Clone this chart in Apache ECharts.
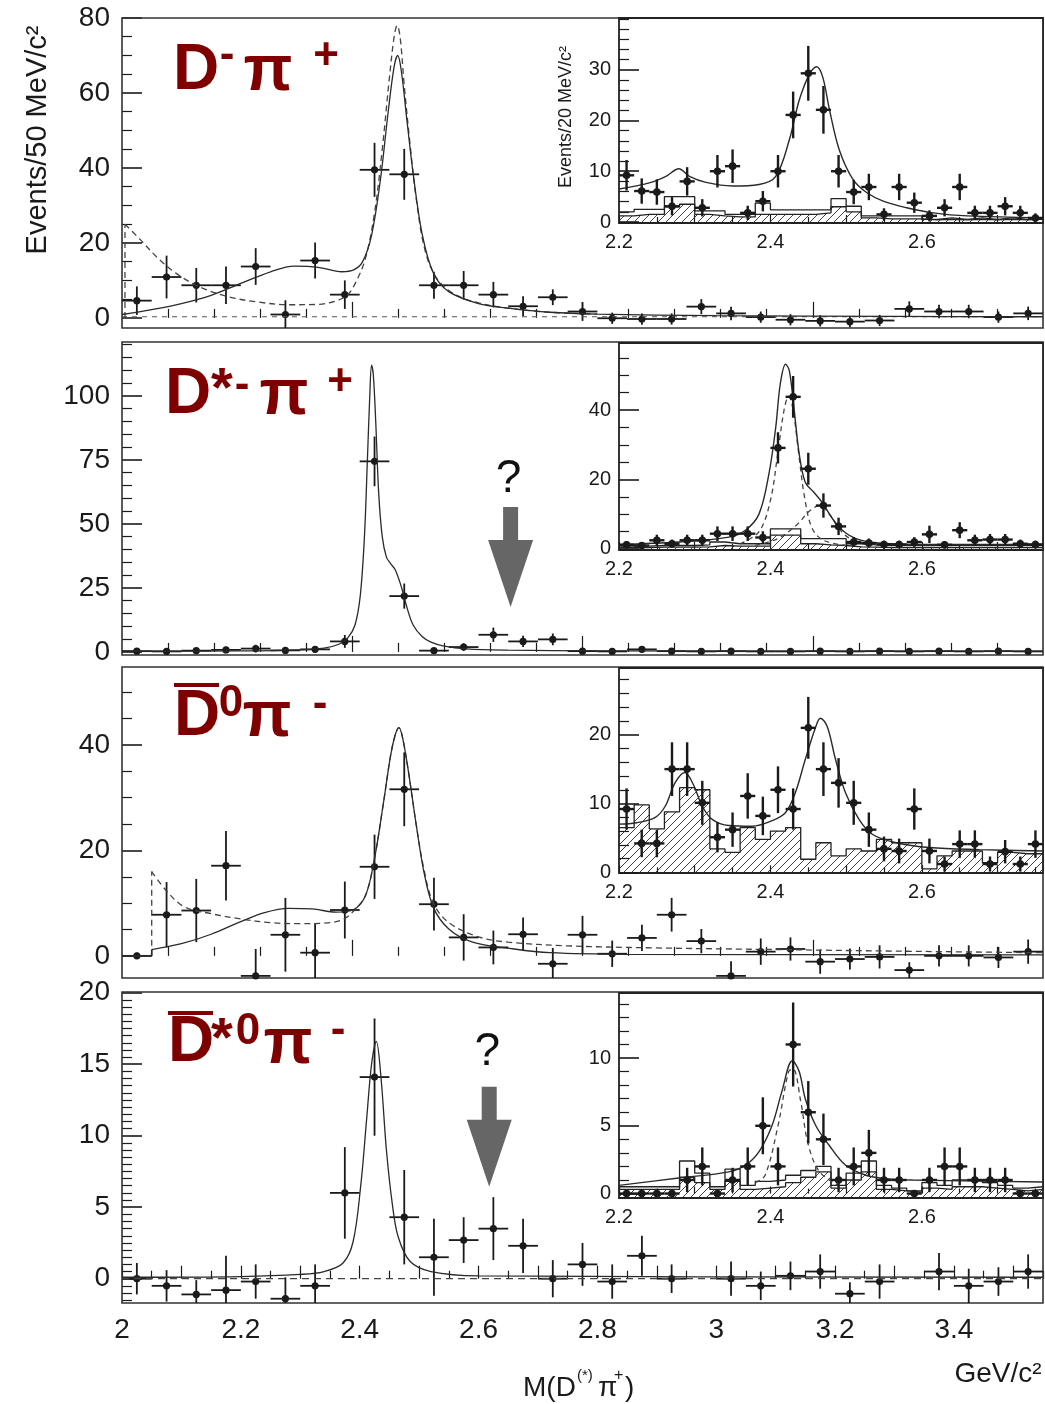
<!DOCTYPE html>
<html><head><meta charset="utf-8">
<script src="https://cdn.jsdelivr.net/npm/echarts@6/dist/echarts.min.js"></script>
<style>html,body{margin:0;padding:0;background:#fff}#c{width:1045px;height:1404px}</style>
</head><body><div id="c"></div>
<script>
// ================= DATA =================
var MAIN_X = [2.025,2.075,2.125,2.175,2.225,2.275,2.325,2.375,2.425,2.475,2.525,2.575,2.625,2.675,2.725,2.775,2.825,2.875,2.925,2.975,3.025,3.075,3.125,3.175,3.225,3.275,3.325,3.375,3.425,3.475,3.525];

// D- pi+
var P1_Y = [4.6,10.9,8.7,8.7,13.7,0.9,15.3,6.2,39.5,38.3,8.7,8.7,6.2,3.1,5.5,1.7,-0.1,-0.3,-0.3,3.0,1.2,0.2,-0.5,-0.8,-1.0,-0.7,2.4,1.7,1.7,0.2,1.2];
var P1_E = [3.8,5.7,4.6,5.0,4.9,3.8,4.8,3.8,7.2,6.8,3.6,3.8,3.4,2.7,2.1,2.5,1.5,1.5,1.5,2.0,1.8,1.5,1.5,1.5,1.5,1.5,2.0,1.8,1.8,1.5,1.8];
var P1_FIT = [[2.0,0.9],[2.05,2.2],[2.1,3.8],[2.15,6.0],[2.2,9.2],[2.25,12.3],[2.29,13.8],[2.33,13.5],[2.37,12.3],[2.39,12.8],[2.405,15],[2.42,22],[2.435,37],[2.448,55],[2.458,67],[2.464,70],[2.47,66],[2.48,52],[2.49,38.5],[2.505,22.5],[2.524,12],[2.55,7],[2.6,3.8],[2.65,2.6],[2.72,1.5],[2.8,1.0],[3.0,0.6],[3.3,0.4],[3.55,0.3]];
var P1_DASH_EDGE = [[2.005,0],[2.005,25]];
var P1_DASH = [[2.005,25],[2.03,21],[2.06,16],[2.09,12],[2.13,8.3],[2.18,5.6],[2.23,4.2],[2.28,3.5],[2.33,3.6],[2.36,4.5],[2.38,6.2],[2.395,10],[2.41,16],[2.425,28],[2.438,45],[2.45,64],[2.458,75],[2.463,78],[2.468,75],[2.475,62],[2.485,46],[2.495,32],[2.51,18],[2.53,10.5],[2.56,6.3],[2.6,4],[2.65,2.6],[2.72,1.5],[2.8,1.0]];
var P1_BASE = [[2.0,0.3],[3.55,0.3]];

// D*- pi+
var P2_Y = [0.3,0.2,0.5,0.8,1.3,0.6,1.0,4.1,74.4,21.8,0.5,1.9,6.7,4.1,4.9,0.3,0.2,1.0,0.3,0.2,0.3,0.2,0.2,0.3,0.2,0.3,0.2,0.3,0.2,0.3,0.2];
var P2_E = [0.8,0.8,1.0,1.2,1.5,1.0,1.2,2.5,9.7,4.9,1.0,1.5,2.8,2.2,2.3,1.0,1.0,1.2,1.0,1.0,1.0,1.0,1.0,1.0,1.0,1.0,1.0,1.0,1.0,1.0,1.0];
var P2_FIT = [[2.0,0.3],[2.2,0.4],[2.3,0.8],[2.34,1.5],[2.365,3],[2.38,5.5],[2.392,10.4],[2.401,22],[2.408,45],[2.413,75],[2.417,100],[2.42,112],[2.423,108],[2.427,90],[2.432,62],[2.438,45],[2.445,37],[2.452,34.5],[2.46,32],[2.47,25.5],[2.48,17],[2.49,10.5],[2.505,6],[2.52,3.8],[2.54,2.4],[2.58,1.2],[2.65,0.7],[2.8,0.4],[3.55,0.3]];

// D0bar pi-
var P3_Y = [0,7.8,8.6,17.1,-3.8,4.0,0.6,8.7,16.9,31.6,9.8,3.5,1.6,4.1,-1.5,4.0,0.4,3.4,7.8,2.8,-3.8,0.8,1.3,-1.1,-0.6,-0.2,-2.7,0,0,-0.3,0.8];
var P3_E = [0.6,6.2,6.0,6.6,5.1,7.0,5.6,5.4,6.1,7.0,5.0,4.4,3.2,3.2,3.0,3.6,2.5,2.5,3.2,2.3,2.8,2.5,2.2,2.3,2.0,2.2,1.5,2.0,2.0,2.0,2.3];
var P3_FIT_STEP = [[2.0,0],[2.05,0],[2.05,1.2]];
var P3_FIT = [[2.05,1.2],[2.1,2.3],[2.15,4.1],[2.2,6.5],[2.24,8.2],[2.28,9.0],[2.32,8.9],[2.36,8.3],[2.39,8.8],[2.41,11.5],[2.425,18.5],[2.44,29],[2.452,38],[2.46,42],[2.466,43.3],[2.472,41.5],[2.482,35],[2.495,25],[2.508,16],[2.524,9.2],[2.55,5.1],[2.59,2.6],[2.66,1.3],[2.72,0.6],[2.85,0.3],[3.55,0.2]];
var P3_DASH_EDGE = [[2.05,0],[2.05,16]];
var P3_DASH = [[2.05,16],[2.075,12.3],[2.105,9.3],[2.15,8.0],[2.2,7.0],[2.25,6.3],[2.3,6.1],[2.34,6.2],[2.37,6.8],[2.39,8.5],[2.41,11.5],[2.425,18.5],[2.44,29],[2.452,38],[2.46,42],[2.466,43.3],[2.472,41.5],[2.482,35],[2.495,25],[2.508,16.5],[2.524,10],[2.55,6.3],[2.6,3.6],[2.65,2.6],[2.75,1.9],[2.9,1.5],[3.1,1.2],[3.3,0.9],[3.55,0.6]];

// D*0bar pi-
var P4_Y = [0,-0.5,-1.1,-0.8,-0.2,-1.4,-0.5,6.0,14.1,4.3,1.5,2.7,3.5,2.3,0,1.0,-0.2,1.6,0,null,0,-0.5,0.2,0.5,-1.05,-0.2,null,0.5,-0.5,-0.2,0.5];
var P4_E = [1.1,1.1,1.0,2.4,1.2,1.5,1.5,3.2,4.1,3.3,2.7,1.6,2.2,1.9,1.3,1.5,1.2,1.4,1.0,0,1.2,1.0,1.0,1.2,0.8,1.2,0,1.3,1.2,1.0,1.2];
var P4_FIT = [[2.0,0.1],[2.2,0.15],[2.3,0.3],[2.34,0.5],[2.372,1.1],[2.389,2.6],[2.402,6.6],[2.412,11.3],[2.42,15],[2.428,16.6],[2.436,14],[2.445,9],[2.455,5.2],[2.465,2.9],[2.485,1.2],[2.52,0.5],[2.6,0.2],[3.55,0.1]];
var P4_BASE = [[2.0,0],[3.55,0]];

// insets (20 MeV bins)
var INSET_X = [2.21,2.23,2.25,2.27,2.29,2.31,2.33,2.35,2.37,2.39,2.41,2.43,2.45,2.47,2.49,2.51,2.53,2.55,2.57,2.59,2.61,2.63,2.65,2.67,2.69,2.71,2.73,2.75];

var I1_Y = [9.2,6.1,5.9,3.1,8.0,2.8,10.0,11.0,1.8,4.1,10.0,21.1,29.3,22.1,10.0,5.9,6.9,1.5,6.9,3.8,1.2,2.8,6.9,1.8,1.8,3.1,1.8,0.8];
var I1_E = [3.0,2.5,2.5,1.8,2.8,1.7,3.2,3.3,1.4,2.0,3.2,4.6,5.4,4.7,3.2,2.4,2.6,1.2,2.6,2.0,1.1,1.7,2.6,1.4,1.4,1.8,1.4,0.9];
var I1_FIT = [[2.2,6.5],[2.24,7.7],[2.262,9],[2.279,10.5],[2.293,9],[2.315,7.8],[2.35,7.1],[2.385,7.4],[2.407,9],[2.425,16.2],[2.438,24],[2.452,29.3],[2.461,30.6],[2.469,28.6],[2.478,22.1],[2.491,14.2],[2.509,8.4],[2.527,5.8],[2.549,4.1],[2.58,2.8],[2.615,1.8],[2.66,1.2],[2.76,0.8]];
var I1_HIST = [2.0,2.5,2.5,5.0,5.0,2.2,2.2,1.5,1.5,3.7,2.4,2.4,2.4,2.4,4.6,3.1,1.2,1.2,1.2,1.2,0.5,0.8,0.5,0.8,0.5,0.8,0.5,0.8];
var I1_HATCH = [1.2,1.5,1.5,3.0,3.5,1.5,1.2,1.0,1.0,1.5,1.5,1.5,1.5,1.8,3.0,2.0,0.8,0.6,0.6,0.6,0.4,0.5,0.4,0.5,0.4,0.5,0.4,0.5];

var I2_Y = [1.2,1.0,2.5,1.5,2.5,2.5,4.4,4.4,4.4,3.3,29.1,43.8,23.1,12.5,6.5,2.0,1.7,1.3,1.3,2.0,4.2,1.2,5.4,2.5,2.7,2.7,1.5,1.3];
var I2_E = [1.1,1.0,1.6,1.2,1.6,1.6,2.1,2.1,2.1,1.8,4.5,6.0,4.6,3.5,2.5,1.4,1.3,1.1,1.1,1.4,2.5,1.1,2.3,1.6,1.6,1.6,1.2,1.1];
var I2_FIT = [[2.2,1.3],[2.28,2.0],[2.345,3.4],[2.367,5.4],[2.385,10.1],[2.398,21.6],[2.407,35],[2.413,47.5],[2.42,53.2],[2.425,51.3],[2.431,40.8],[2.438,27.4],[2.446,19.2],[2.457,16.4],[2.468,13.5],[2.482,8.7],[2.495,5.4],[2.513,3.0],[2.543,1.7],[2.588,1.3],[2.76,1.3]];
var I2_DASH1 = [[2.36,1.5],[2.385,5],[2.4,14],[2.41,28],[2.418,40],[2.424,44],[2.43,40],[2.437,28],[2.445,15],[2.455,6],[2.47,2.5],[2.5,1]];
var I2_DASH2 = [[2.38,1],[2.41,3],[2.435,7],[2.452,11],[2.465,12.5],[2.478,10],[2.49,6],[2.505,3],[2.53,1.2]];
var I2_HIST = [0.8,0.8,1.0,1.0,1.0,1.2,2.0,1.5,1.5,1.5,5.8,5.8,3.0,3.0,3.0,1.5,1.2,1.0,1.0,1.0,1.0,1.0,1.0,1.0,1.0,1.0,1.0,1.0];
var I2_HATCH = [0.4,0.4,0.5,0.5,0.5,0.6,1.0,0.8,0.8,0.8,4.0,4.0,1.5,1.2,1.0,0.6,0.5,0.4,0.4,0.4,0.4,0.4,0.4,0.4,0.4,0.4,0.4,0.4];

var I3_Y = [9.2,4.2,4.2,15.0,15.0,10.1,5.1,6.2,11.1,8.2,12.0,9.2,21.0,15.0,13.0,10.1,6.2,3.4,3.1,9.2,3.1,1.2,4.1,4.1,1.2,3.0,1.2,4.1];
var I3_E = [3.0,2.0,2.0,3.9,3.9,3.2,2.2,2.5,3.3,2.8,3.4,3.0,4.5,3.9,3.6,3.2,2.5,1.8,1.8,3.0,1.8,1.1,2.0,2.0,1.1,1.7,1.1,2.0];
var I3_FIT = [[2.2,7.0],[2.223,7.2],[2.248,8.0],[2.261,9.6],[2.274,13],[2.287,14.5],[2.298,12.8],[2.31,9.6],[2.323,7.7],[2.345,6.8],[2.376,6.7],[2.402,7.5],[2.42,8.7],[2.433,11.6],[2.446,16.4],[2.46,21.2],[2.466,22.4],[2.475,21.2],[2.486,16.4],[2.499,11.6],[2.517,7.7],[2.535,5.5],[2.566,4.3],[2.61,3.6],[2.676,3.3],[2.76,3.1]];
var I3_HIST = [6.5,9.8,6.3,8.8,12.3,12.0,3.4,2.9,6.5,4.8,6.0,6.5,1.9,4.3,2.4,3.4,3.1,4.8,4.3,4.3,0.5,2.4,3.1,3.1,1.4,2.9,2.7,2.7];

var I4_Y = [0,0,0,0,1,2,0,1,2,5,2,11,6,4,1,2,3,1,1,0,1,2,2,1,1,1,0,0];
var I4_E = [0,0,0,0,0.9,1.4,0,0.9,1.4,2.1,1.4,3.1,2.3,1.9,0.9,1.4,1.7,0.9,0.9,0,0.9,1.4,1.4,0.9,0.9,0.9,0,0];
var I4_FIT = [[2.2,0.6],[2.279,1.15],[2.345,1.6],[2.367,2.1],[2.385,3.1],[2.402,5.0],[2.415,7.5],[2.429,9.8],[2.438,9.0],[2.446,7.0],[2.46,5.0],[2.477,3.6],[2.499,2.1],[2.526,1.35],[2.552,1.1],[2.588,1.0],[2.76,0.85]];
var I4_DASH = [[2.38,0.8],[2.393,1.35],[2.41,5],[2.424,9],[2.43,9.2],[2.44,6.8],[2.45,3.6],[2.465,1.6],[2.49,0.6]];
var I4_HIST = [0.5,0.5,0.5,0.5,2.4,1.5,0.5,1.8,0.6,0.9,1.0,1.35,1.7,2.0,0.6,1.5,2.4,0.6,0.4,0.2,0.8,0.6,1.0,1.0,0.8,0.6,0.4,0.5];
var I4_HATCH = [0.3,0.3,0.3,0.3,1.2,0.8,0.3,0.9,0.3,0.4,0.5,0.8,1.2,1.6,0.4,1.0,1.6,0.3,0.2,0.1,0.4,0.3,0.5,0.5,0.4,0.3,0.2,0.3];

// tick labels
var MAIN_XLABELS = [2,2.2,2.4,2.6,2.8,3,3.2,3.4];
var P1_YTICKS = [0,20,40,60,80];
var P2_YTICKS = [0,25,50,75,100];
var P3_YTICKS = [0,20,40];
var P4_YTICKS = [0,5,10,15,20];
var INSET_XLABELS = [2.2,2.4,2.6];
var I1_YTICKS = [0,10,20,30];
var I2_YTICKS = [0,20,40];
var I3_YTICKS = [0,10,20];
var I4_YTICKS = [0,5,10];

// ================= LAYOUT / STYLE =================
var FONT = '"Liberation Sans", Arial, Helvetica, sans-serif';
var INK = '#1a1a1a';
var RED = '#7f0000';
var MAIN_LAYOUT = [
  {top:18, height:310, ymin:-2.7, ymax:80, minor:5, ticks:P1_YTICKS},
  {top:342, height:313, ymin:-1.2, ymax:121, minor:5, ticks:P2_YTICKS},
  {top:667, height:311, ymin:-4.2, ymax:54.8, minor:5, ticks:P3_YTICKS},
  {top:992, height:311, ymin:-1.7, ymax:20.05, minor:0.5, ticks:P4_YTICKS}
];
var INSET_LAYOUT = [
  {top:18, height:205, ymin:-0.2, ymax:40.2, minor:2, ticks:I1_YTICKS},
  {top:343, height:207, ymin:-0.3, ymax:59.3, minor:5, ticks:I2_YTICKS},
  {top:668, height:205, ymin:-0.1, ymax:29.7, minor:2, ticks:I3_YTICKS},
  {top:993, height:205, ymin:-0.33, ymax:14.8, minor:1, ticks:I4_YTICKS}
];

function stepVals(min, max, step, exclude) {
  var out = [], k0 = Math.ceil(min/step - 1e-9), k1 = Math.floor(max/step + 1e-9);
  for (var k = k0; k <= k1; k++) {
    var v = +(k*step).toFixed(6);
    if (!exclude || exclude.indexOf(v) < 0) out.push(v);
  }
  return out;
}

var grids = [], xAxes = [], yAxes = [], series = [];

function axisBase(gi, min, max, z, pos) {
  return {gridIndex:gi, type:'value', position:pos, offset:0, min:min, max:max, z:z, axisLine:{show:false}, splitLine:{show:false}, axisPointer:{show:false}};
}
function addAxes(gi, o) {
  var xi = xAxes.length, yi = yAxes.length;
  var xa = axisBase(gi, o.xmin, o.xmax, o.z, 'bottom');
  xa.axisTick = {show:true, inside:true, length:o.xLen, customValues:o.xMajor, lineStyle:{color:INK, width:1.2}};
  xa.axisLabel = {show:!!o.xLabels, customValues:o.xLabels || o.xMajor, fontSize:o.xFs, color:INK, fontFamily:FONT, margin:o.xMargin, formatter:o.xFmt};
  xAxes.push(xa);
  var xb = axisBase(gi, o.xmin, o.xmax, o.z, 'bottom');
  xb.axisTick = {show:true, inside:true, length:o.xLen2, customValues:o.xMinor, lineStyle:{color:INK, width:1.2}};
  xb.axisLabel = {show:false};
  xAxes.push(xb);
  var ya = axisBase(gi, o.ymin, o.ymax, o.z, 'left');
  ya.axisTick = {show:true, inside:true, length:o.yLen, customValues:o.yMajor, lineStyle:{color:INK, width:1.6}};
  ya.axisLabel = {show:true, customValues:o.yMajor, fontSize:o.yFs, color:INK, fontFamily:FONT, margin:o.yMargin};
  yAxes.push(ya);
  var yb = axisBase(gi, o.ymin, o.ymax, o.z, 'left');
  yb.axisTick = {show:true, inside:true, length:o.yLen2, customValues:o.yMinor, lineStyle:{color:INK, width:1.2}};
  yb.axisLabel = {show:false};
  yAxes.push(yb);
  return {x:xi, y:yi};
}

function zipPts(xs, ys, es) {
  var out = [];
  for (var i = 0; i < xs.length; i++) { if (ys[i] === null) continue; out.push([xs[i], ys[i], es[i]]); }
  return out;
}
function histData(xs, vals, hw) {
  var d = [];
  for (var i = 0; i < xs.length; i++) d.push([+(xs[i]-hw).toFixed(4), vals[i]]);
  d.push([+(xs[xs.length-1]+hw).toFixed(4), vals[vals.length-1]]);
  return d;
}

function errSeries(ax, data, hw, r, lw, z) {
  return {type:'custom', xAxisIndex:ax.x, yAxisIndex:ax.y, data:data, z:z, silent:true,
    renderItem:function(params, api) {
      var x = api.value(0), y = api.value(1), e = api.value(2);
      var cs = params.coordSys;
      var top = cs.y, bot = cs.y + cs.height, left = cs.x, right = cs.x + cs.width;
      var c = api.coord([x, y]);
      var pUp = api.coord([x, y + e])[1], pDn = api.coord([x, y - e])[1];
      var xl = Math.max(api.coord([x - hw, y])[0], left), xr = Math.min(api.coord([x + hw, y])[0], right);
      var kids = [];
      var y1 = Math.max(pUp, top), y2 = Math.min(pDn, bot);
      if (e > 0 && y2 > y1) kids.push({type:'line', shape:{x1:c[0], y1:y1, x2:c[0], y2:y2}, style:{stroke:INK, lineWidth:lw}});
      if (c[1] >= top - 0.5 && c[1] <= bot + 0.5) {
        kids.push({type:'line', shape:{x1:xl, y1:c[1], x2:xr, y2:c[1]}, style:{stroke:INK, lineWidth:lw}});
        kids.push({type:'circle', shape:{cx:c[0], cy:c[1], r:r}, style:{fill:INK}});
      }
      return {type:'group', children:kids};
    }
  };
}
function lineSeries(ax, data, o) {
  var s = {type:'line', xAxisIndex:ax.x, yAxisIndex:ax.y, data:data, symbol:'none', silent:true, clip:true, z:o.z,
    smooth:o.smooth || false, step:o.step || false,
    lineStyle:{color:o.color || '#2a2a2a', width:o.width || 1.3, type:o.dash || 'solid'}};
  if (o.area) s.areaStyle = {color:o.area, opacity:1, origin:'start'};
  return s;
}

// hatch pattern
var hc = document.createElement('canvas'); hc.width = 8; hc.height = 8;
var hg = hc.getContext('2d'); hg.strokeStyle = '#2a2a2a'; hg.lineWidth = 0.9;
hg.beginPath(); hg.moveTo(0,8); hg.lineTo(8,0); hg.moveTo(-1,1); hg.lineTo(1,-1); hg.moveTo(7,9); hg.lineTo(9,7); hg.stroke();
var HATCH = {image:hc, repeat:'repeat'};

// --- main panels
var mainTopTicks = [], mainTopTicksLong = [];
for (var k = 1; k <= 19; k++) { var v = +(2 + k*0.0775).toFixed(4); if (k % 5 === 0) mainTopTicksLong.push(v); else mainTopTicks.push(v); }
var mainAx = [];
MAIN_LAYOUT.forEach(function(L, i) {
  grids.push({left:122, top:L.top, width:921, height:L.height, show:true, borderColor:'#333', borderWidth:1.6, backgroundColor:'transparent', z:1});
  var last = (i === 3);
  mainAx.push(addAxes(grids.length-1, {
    xmin:2, xmax:3.55, z:0,
    xMajor: last ? stepVals(2, 3.55, 0.1) : mainTopTicksLong,
    xMinor: last ? stepVals(2, 3.55, 0.05, stepVals(2, 3.55, 0.1)) : mainTopTicks,
    xLen: last ? 13 : 16, xLen2: last ? 8 : 9,
    xLabels: last ? MAIN_XLABELS : null, xFs:28, xMargin:13,
    xFmt:function(v){ return String(+(+v).toFixed(1)); },
    ymin:L.ymin, ymax:L.ymax, yMajor:L.ticks, yMinor:stepVals(L.ymin, L.ymax, L.minor, L.ticks),
    yLen:20, yLen2:10, yFs:28, yMargin:12
  }));
});
// --- insets
var insetAx = [];
INSET_LAYOUT.forEach(function(L, i) {
  grids.push({left:619, top:L.top, width:424, height:L.height, show:true, borderColor:'#222', borderWidth:1.8, backgroundColor:'#ffffff', z:3});
  insetAx.push(addAxes(grids.length-1, {
    xmin:2.2, xmax:2.76, z:4,
    xMajor:stepVals(2.2, 2.76, 0.1), xMinor:stepVals(2.2, 2.76, 0.05, stepVals(2.2, 2.76, 0.1)),
    xLen:7, xLen2:5, xLabels:INSET_XLABELS, xFs:20, xMargin:9,
    xFmt:function(v){ return (+v).toFixed(1); },
    ymin:L.ymin, ymax:L.ymax, yMajor:L.ticks, yMinor:stepVals(L.ymin, L.ymax, L.minor, L.ticks),
    yLen:20, yLen2:10, yFs:20, yMargin:8
  }));
});

// --- main series
var DASH = [6,4];
series.push(lineSeries(mainAx[0], P1_BASE, {z:2, dash:[5,5], color:'#555', width:1.2}));
series.push(lineSeries(mainAx[0], P1_DASH_EDGE, {z:2, dash:DASH, color:'#444'}));
series.push(lineSeries(mainAx[0], P1_DASH, {z:2, dash:DASH, color:'#444', smooth:0.35}));
series.push(lineSeries(mainAx[0], P1_FIT, {z:2, smooth:0.35}));
series.push(errSeries(mainAx[0], zipPts(MAIN_X, P1_Y, P1_E), 0.025, 3.6, 1.8, 2));

series.push(lineSeries(mainAx[1], P2_FIT, {z:2, smooth:0.35}));
series.push(errSeries(mainAx[1], zipPts(MAIN_X, P2_Y, P2_E), 0.025, 3.6, 1.8, 2));

series.push(lineSeries(mainAx[2], P3_DASH_EDGE, {z:2, dash:DASH, color:'#444'}));
series.push(lineSeries(mainAx[2], P3_DASH, {z:2, dash:DASH, color:'#444', smooth:0.35}));
series.push(lineSeries(mainAx[2], P3_FIT_STEP, {z:2, width:1.6}));
series.push(lineSeries(mainAx[2], P3_FIT, {z:2, smooth:0.35}));
series.push(errSeries(mainAx[2], zipPts(MAIN_X, P3_Y, P3_E), 0.025, 3.6, 1.8, 2));

series.push(lineSeries(mainAx[3], P4_BASE, {z:2, dash:[7,5], color:'#444', width:1.3}));
series.push(lineSeries(mainAx[3], P4_FIT, {z:2, smooth:0.35}));
series.push(errSeries(mainAx[3], zipPts(MAIN_X, P4_Y, P4_E), 0.025, 3.6, 1.8, 2));

// --- inset series
function insetHist(ax, vals, hatched) {
  series.push(lineSeries(ax, histData(INSET_X, vals, 0.01), {z:5, step:'end', width:1.3, color:'#222', area: hatched ? HATCH : null}));
}
insetHist(insetAx[0], I1_HATCH, true);
insetHist(insetAx[0], I1_HIST, false);
series.push(lineSeries(insetAx[0], I1_FIT, {z:6, smooth:0.35, width:1.4}));
series.push(errSeries(insetAx[0], zipPts(INSET_X, I1_Y, I1_E), 0.01, 3.8, 2.4, 7));

insetHist(insetAx[1], I2_HATCH, true);
insetHist(insetAx[1], I2_HIST, false);
series.push(lineSeries(insetAx[1], I2_DASH1, {z:6, smooth:0.35, dash:[5,4], color:'#444'}));
series.push(lineSeries(insetAx[1], I2_DASH2, {z:6, smooth:0.35, dash:[5,4], color:'#444'}));
series.push(lineSeries(insetAx[1], I2_FIT, {z:6, smooth:0.35, width:1.4}));
series.push(errSeries(insetAx[1], zipPts(INSET_X, I2_Y, I2_E), 0.01, 3.8, 2.4, 7));

insetHist(insetAx[2], I3_HIST, true);
series.push(lineSeries(insetAx[2], I3_FIT, {z:6, smooth:0.35, width:1.4}));
series.push(errSeries(insetAx[2], zipPts(INSET_X, I3_Y, I3_E), 0.01, 3.8, 2.4, 7));

insetHist(insetAx[3], I4_HATCH, true);
insetHist(insetAx[3], I4_HIST, false);
series.push(lineSeries(insetAx[3], I4_DASH, {z:6, smooth:0.35, dash:[5,4], color:'#444'}));
series.push(lineSeries(insetAx[3], I4_FIT, {z:6, smooth:0.35, width:1.4}));
series.push(errSeries(insetAx[3], zipPts(INSET_X, I4_Y, I4_E), 0.01, 3.8, 2.4, 7));

// ================= TEXT =================
function txt(s, x, y, fs, o) {
  o = o || {};
  return {type:'text', x:x, y:y, z:20, rotation:o.rot || 0, silent:true,
    style:{text:s, fontSize:fs, fontFamily:FONT, fontWeight:o.bold ? 'bold' : 'normal', fill:o.color || INK,
      align:o.align || 'center', verticalAlign:'middle'}};
}
function bold(s, x, y, fs) { return txt(s, x, y, fs, {bold:true, color:RED}); }
var graphics = [
  txt('Events/50 MeV/c²', 38, 140, 29, {rot:Math.PI/2}),
  txt('Events/20 MeV/c²', 566, 117, 18, {rot:Math.PI/2}),
  txt('M(D', 523, 1388, 28, {align:'left'}),
  txt('(*)', 577, 1376, 15, {align:'left'}),
  txt('π', 598, 1388, 28, {align:'left'}),
  txt('+', 614, 1376, 16, {align:'left'}),
  txt(')', 625, 1388, 28, {align:'left'}),
  txt('GeV/c²', 998, 1374, 28),
  // panel 1
  bold('D', 196, 71, 64), bold('-', 227, 56, 44), bold('π', 268, 72, 64), bold('+', 326, 57, 44),
  // panel 2
  bold('D', 188, 395, 64), bold('*', 222, 391, 56), bold('-', 242, 386, 44), bold('π', 284, 396, 64), bold('+', 340, 383, 44),
  // panel 3
  bold('D', 197, 717, 64), bold('0', 231, 704, 44), bold('π', 267, 718, 64), bold('-', 320, 705, 44),
  {type:'rect', z:20, shape:{x:174, y:683, width:45, height:4}, style:{fill:RED}},
  // panel 4
  bold('D', 191, 1043, 64), bold('*', 222, 1041, 56), bold('0', 248, 1032, 44), bold('π', 288, 1045, 64), bold('-', 338, 1031, 44),
  {type:'rect', z:20, shape:{x:168, y:1011, width:45, height:4}, style:{fill:RED}}
];

var chart = echarts.init(document.getElementById('c'), null, {renderer:'canvas'});
chart.setOption({
  backgroundColor:'#ffffff', animation:false,
  grid:grids, xAxis:xAxes, yAxis:yAxes, series:series, graphic:graphics
});

// arrows with "?" placed in data coordinates of panels 2 and 4
var ARROWS = [{grid:1, x:2.654, y:17.5}, {grid:3, x:2.618, y:6.43}];
var extra = [];
ARROWS.forEach(function(a) {
  var p = chart.convertToPixel({gridIndex:a.grid}, [a.x, a.y]);
  var tx = p[0], ty = p[1];
  extra.push({type:'polygon', z:20, silent:true, shape:{points:[
    [tx-7.5, ty-100], [tx+7.5, ty-100], [tx+7.5, ty-67], [tx+22.5, ty-67], [tx, ty], [tx-22.5, ty-67], [tx-7.5, ty-67]
  ]}, style:{fill:'#666666'}});
  extra.push(txt('?', tx - 2, ty - (a.grid === 1 ? 128 : 134), 46, {color:'#111'}));
});
chart.setOption({graphic:graphics.concat(extra)});
</script></body></html>
